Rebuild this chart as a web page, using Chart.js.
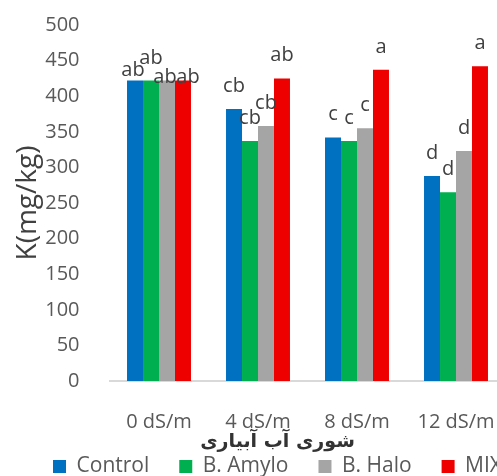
<!DOCTYPE html>
<html>
<head>
<meta charset="utf-8">
<script src="https://cdn.jsdelivr.net/npm/chart.js@4.4.1/dist/chart.umd.min.js"></script>
<style>
  html, body { margin: 0; padding: 0; background: #fff; overflow: hidden; }
  #wrap { width: 497px; height: 476px; overflow: hidden; position: relative; }
  #wrap canvas { position: absolute; left: 0; top: 0; }
</style>
</head>
<body>
<div id="wrap"><canvas id="chart" width="555" height="500"></canvas></div>
<script>
// data
const categories = ['0 dS/m', '4 dS/m', '8 dS/m', '12 dS/m'];
const seriesNames = ['Control', 'B. Amylo', 'B. Halo', 'MIX'];
const controlValues = [422, 382, 342, 288];
const amyloValues = [422, 337, 337, 265];
const haloValues = [422, 358, 355, 323];
const mixValues = [422, 425, 437, 442];
const controlLetters = ['ab', 'cb', 'c', 'd'];
const amyloLetters = ['ab', 'cb', 'c', 'd'];
const haloLetters = ['ab', 'cb', 'c', 'd'];
const mixLetters = ['ab', 'ab', 'a', 'a'];
const yMin = 0;
const yMax = 500;
const yStep = 50;

const colors = ['#0070C0', '#00B050', '#A5A5A5', '#EE0000'];
const textFont = 'Open Sans';

// letters in the first group were moved by hand in the original
const firstGroupShift = [[-2, 12], [0, 0], [-2, 19], [5, 19]];

const lettersPlugin = {
    id: 'letters',
    afterDatasetsDraw(chart) {
        const ctx = chart.ctx;
        ctx.save();
        ctx.font = '20px "' + textFont + '"';
        ctx.fillStyle = '#404040';
        ctx.textAlign = 'center';
        ctx.textBaseline = 'alphabetic';
        chart.data.datasets.forEach(function(ds, i) {
            chart.getDatasetMeta(i).data.forEach(function(bar, j) {
                const shift = j === 0 ? firstGroupShift[i] : [0, 0];
                ctx.fillText(ds.letters[j], bar.x + shift[0], bar.y - 17 + shift[1]);
            });
        });
        ctx.restore();
    }
};

const valueSets = [controlValues, amyloValues, haloValues, mixValues];
const letterSets = [controlLetters, amyloLetters, haloLetters, mixLetters];

const ctx = document.getElementById('chart').getContext('2d');
new Chart(ctx, {
    type: 'bar',
    data: {
        labels: categories,
        datasets: seriesNames.map(function(name, i) {
            return {
                label: name,
                data: valueSets[i],
                letters: letterSets[i],
                backgroundColor: colors[i],
                borderWidth: 0,
                barPercentage: 1,
                categoryPercentage: 0.646
            };
        })
    },
    options: {
        responsive: false,
        animation: false,
        devicePixelRatio: 1,
        layout: { padding: { top: 25, bottom: 6, left: 0, right: 0 } },
        plugins: {
            legend: {
                position: 'bottom',
                labels: {
                    boxWidth: 13,
                    boxHeight: 13,
                    padding: 30,
                    color: '#595959',
                    font: { family: textFont, size: 21 }
                }
            },
            title: {
                display: true,
                position: 'bottom',
                weight: 500,
                text: 'شوری آب آبیاری',
                color: '#333333',
                font: { family: 'DejaVu Sans', size: 19, weight: 'bold', lineHeight: 1 },
                padding: { top: 0, bottom: -26 }
            },
            tooltip: { enabled: false }
        },
        scales: {
            x: {
                grid: { display: false },
                border: { color: '#D9D9D9', width: 2 },
                ticks: {
                    color: '#595959',
                    font: { family: textFont, size: 20 },
                    padding: 21,
                    maxRotation: 0,
                    autoSkip: false
                },
                afterFit: function(scale) { scale.height = 52; }
            },
            y: {
                min: yMin,
                max: yMax,
                grid: { display: false },
                border: { display: false },
                ticks: {
                    stepSize: yStep,
                    color: '#595959',
                    font: { family: textFont, size: 20 },
                    padding: 22
                },
                title: {
                    display: true,
                    text: 'K(mg/kg)',
                    color: '#404040',
                    font: { family: textFont, size: 28 },
                    padding: { top: 11, bottom: 0 }
                },
                afterFit: function(scale) {
                    scale.width = 109.5;
                    // the tick padding is horizontal here, do not let it push the plot down
                    scale.paddingTop = 12;
                    scale.paddingBottom = 12;
                }
            },
            // empty right axis: the original chart runs past the right edge
            y2: {
                position: 'right',
                grid: { display: false },
                border: { display: false },
                ticks: { display: false },
                afterFit: function(scale) { scale.width = 49.5; }
            }
        }
    },
    plugins: [lettersPlugin]
});
</script>
</body>
</html>
